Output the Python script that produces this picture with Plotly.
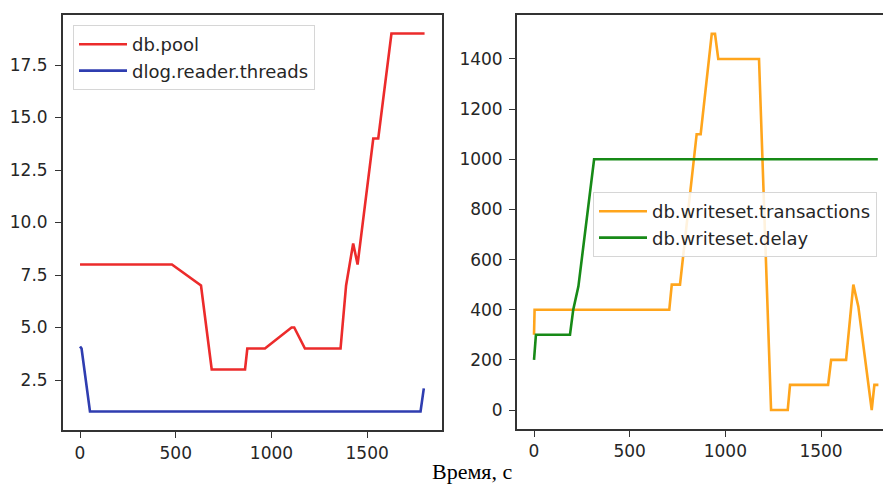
import plotly.graph_objects as go

# ---- data ----
pool_t = [0, 480, 632, 688, 862, 874, 966, 1105, 1119, 1175, 1361, 1390, 1427, 1450, 1532, 1558, 1627, 1800]
pool_v = [8, 8, 7, 3, 3, 4, 4, 5, 5, 4, 4, 7, 9, 8, 14, 14, 19, 19]

threads_t = [0, 8, 52, 1779, 1796]
threads_v = [4.1, 4.0, 1.0, 1.0, 2.1]

trans_t = [0, 3, 707, 720, 763, 850, 871, 929, 946, 963, 1176, 1239, 1326, 1338,
           1537, 1553, 1631, 1669, 1695, 1765, 1779, 1800]
trans_v = [300, 400, 400, 500, 500, 1100, 1100, 1500, 1500, 1400, 1400, 0, 0, 100,
           100, 200, 200, 500, 413, 0, 100, 100]

delay_t = [0, 10, 188, 205, 232, 314, 1797]
delay_v = [200, 300, 300, 400, 493, 1000, 1000]

left_yticks = [2.5, 5.0, 7.5, 10.0, 12.5, 15.0, 17.5]
left_ylabels = ["2.5", "5.0", "7.5", "10.0", "12.5", "15.0", "17.5"]
right_yticks = [0, 200, 400, 600, 800, 1000, 1200, 1400]
xticks = [0, 500, 1000, 1500]
xlabel = "Время, с"

# ---- figure ----
W, H = 883, 485
RED = "#ec2b2b"
BLUE = "#2f3db0"
ORANGE = "#ffa51c"
GREEN = "#178a17"
AX = "#333333"

fig = go.Figure()
fig.add_trace(go.Scatter(x=pool_t, y=pool_v, mode="lines", name="db.pool",
                         line=dict(color=RED, width=2.6), xaxis="x", yaxis="y", legend="legend"))
fig.add_trace(go.Scatter(x=threads_t, y=threads_v, mode="lines", name="dlog.reader.threads",
                         line=dict(color=BLUE, width=2.6), xaxis="x", yaxis="y", legend="legend"))
fig.add_trace(go.Scatter(x=trans_t, y=trans_v, mode="lines", name="db.writeset.transactions",
                         line=dict(color=ORANGE, width=2.6), xaxis="x2", yaxis="y2", legend="legend2"))
fig.add_trace(go.Scatter(x=delay_t, y=delay_v, mode="lines", name="db.writeset.delay",
                         line=dict(color=GREEN, width=2.6), xaxis="x2", yaxis="y2", legend="legend2"))

tickfont = dict(family="DejaVu Sans", size=17, color="#262626")
common = dict(showgrid=False, zeroline=False, showline=True, linecolor=AX, linewidth=1.5,
              ticks="outside", ticklen=6, tickwidth=1.3, tickcolor=AX, tickfont=tickfont)
legfont = dict(family="DejaVu Sans", size=18, color="#262626")

fig.update_layout(
    width=W, height=H,
    margin=dict(l=0, r=0, t=0, b=0),
    paper_bgcolor="white", plot_bgcolor="white",
    xaxis=dict(domain=[62.8 / W, 441.8 / W], range=[-90, 1890], tickvals=xticks,
               mirror=True, anchor="y", **common),
    yaxis=dict(domain=[(H - 430.4) / H, (H - 14.6) / H], range=[0.1, 19.9],
               tickvals=left_yticks, ticktext=left_ylabels, mirror=True, anchor="x",
               ticklabelstandoff=4, **common),
    xaxis2=dict(domain=[516.8 / W, 1.0], range=[-90, 1824], tickvals=xticks,
                mirror=True, anchor="y2", **common),
    yaxis2=dict(domain=[(H - 428.8) / H, (H - 15.1) / H], range=[-75, 1575],
                tickvals=right_yticks, anchor="x2", ticklabelstandoff=3, **common),
    legend=dict(x=73 / W, y=(H - 25) / H, xanchor="left", yanchor="top",
                bgcolor="rgba(255,255,255,0.85)", bordercolor="#d6d6d6", borderwidth=1,
                font=legfont, itemwidth=48),
    legend2=dict(x=593 / W, y=(H - 192) / H, xanchor="left", yanchor="top",
                 bgcolor="rgba(255,255,255,0.85)", bordercolor="#d6d6d6", borderwidth=1,
                 font=legfont, itemwidth=48),
    showlegend=True,
    annotations=[dict(text=xlabel, x=472 / W, y=0, xref="paper", yref="paper",
                      showarrow=False, xanchor="center", yanchor="bottom", borderpad=0,
                      font=dict(family="Liberation Serif", size=22, color="black"))],
)

fig.write_html("out.html", config={"displayModeBar": False},
               post_script="document.body.style.margin='0px';document.body.style.overflow='hidden';")
